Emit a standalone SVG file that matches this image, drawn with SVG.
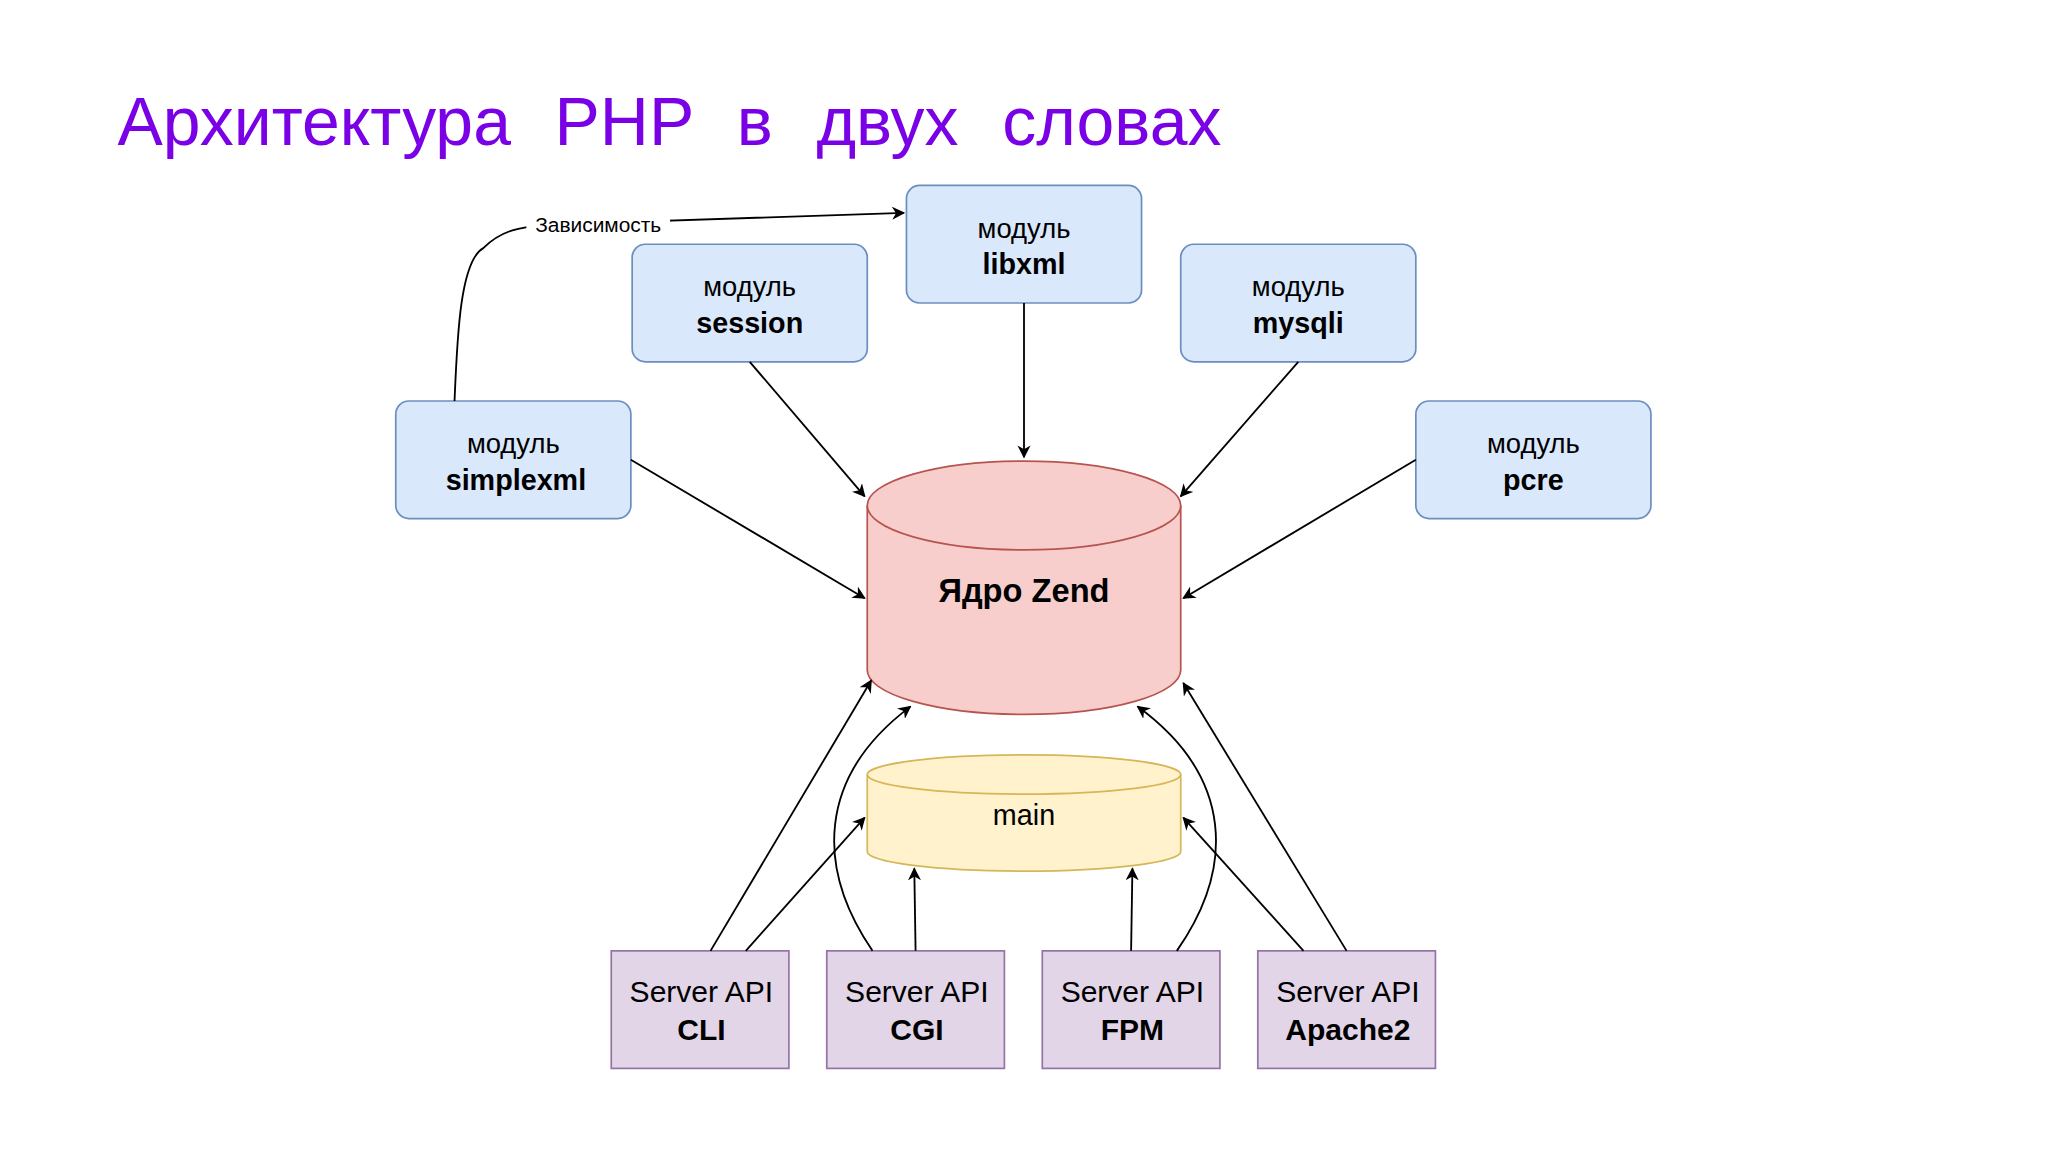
<svg xmlns="http://www.w3.org/2000/svg" width="2048" height="1152" viewBox="0 0 2048 1152">
<defs>
<marker id="ar" viewBox="0 0 10 10" refX="9" refY="5" markerWidth="10" markerHeight="10" orient="auto" markerUnits="userSpaceOnUse"><path d="M0,0 L10,5 L0,10 L3,5 z" fill="#000"/></marker>
<style>
.t{font-family:"Liberation Sans",Arial,sans-serif;text-anchor:middle}
.m{fill:#dae8fc;stroke:#6c8ebf;stroke-width:1.3}
.s{fill:#e1d5e7;stroke:#9673a6;stroke-width:1.3}
.c{fill:none;stroke:#000;stroke-width:1.4;marker-end:url(#ar)}
</style>
</defs>
<rect width="2048" height="1152" fill="#fff"/>
<g transform="scale(1.30612)">
<text x="90" y="111" style="font-family:'Liberation Sans',Arial,sans-serif;font-size:52px;word-spacing:19px" fill="#7a00e6">Архитектура PHP в двух словах</text>
<g id="libxml"><rect class="m" x="694" y="142" width="180" height="90" rx="10"/><text class="t" x="784" y="182" font-size="21">модуль</text><text class="t" x="784" y="210" font-size="22" font-weight="bold">libxml</text></g>
<g id="session"><rect class="m" x="484" y="187" width="180" height="90" rx="10"/><text class="t" x="574" y="227" font-size="21">модуль</text><text class="t" x="574" y="255" font-size="22" font-weight="bold">session</text></g>
<g id="mysqli"><rect class="m" x="904" y="187" width="180" height="90" rx="10"/><text class="t" x="994" y="227" font-size="21">модуль</text><text class="t" x="994" y="255" font-size="22" font-weight="bold">mysqli</text></g>
<g id="simplexml"><rect class="m" x="303" y="307" width="180" height="90" rx="10"/><text class="t" x="393" y="347" font-size="21">модуль</text><text class="t" x="395" y="375" font-size="22" font-weight="bold">simplexml</text></g>
<g id="pcre"><rect class="m" x="1084" y="307" width="180" height="90" rx="10"/><text class="t" x="1174" y="347" font-size="21">модуль</text><text class="t" x="1174" y="375" font-size="22" font-weight="bold">pcre</text></g>
<g id="zend"><path d="M664,387 L664,513 A120,34 0 0 0 904,513 L904,387 A120,34 0 0 0 664,387 Z" fill="#f8cecc" stroke="#b85450" stroke-width="1.3"/><path d="M664,387 A120,34 0 0 0 904,387" fill="none" stroke="#b85450" stroke-width="1.3"/><text class="t" x="784" y="461" font-size="25" font-weight="bold">Ядро Zend</text></g>
<g id="main"><path d="M664,593 L664,652 A120,15 0 0 0 904,652 L904,593 A120,15 0 0 0 664,593 Z" fill="#fff2cc" stroke="#d6b656" stroke-width="1.3"/><path d="M664,593 A120,15 0 0 0 904,593" fill="none" stroke="#d6b656" stroke-width="1.3"/><text class="t" x="784" y="632" font-size="22">main</text></g>
<g id="cli"><rect class="s" x="468" y="728" width="136" height="90"/><text class="t" x="537" y="767" font-size="23">Server API</text><text class="t" x="537" y="796" font-size="23" font-weight="bold">CLI</text></g>
<g id="cgi"><rect class="s" x="633" y="728" width="136" height="90"/><text class="t" x="702" y="767" font-size="23">Server API</text><text class="t" x="702" y="796" font-size="23" font-weight="bold">CGI</text></g>
<g id="fpm"><rect class="s" x="798" y="728" width="136" height="90"/><text class="t" x="867" y="767" font-size="23">Server API</text><text class="t" x="867" y="796" font-size="23" font-weight="bold">FPM</text></g>
<g id="apache2"><rect class="s" x="963" y="728" width="136" height="90"/><text class="t" x="1032" y="767" font-size="23">Server API</text><text class="t" x="1032" y="796" font-size="23" font-weight="bold">Apache2</text></g>
<g id="connectors">
<path class="c" d="M574,277 L662,380"/>
<path class="c" d="M784,232 L784,350"/>
<path class="c" d="M994,277 L904,380"/>
<path class="c" d="M483,352 L662,458"/>
<path class="c" d="M1084,352 L906,458"/>
<path class="c" d="M348,307 C350,260 352,200 370,190 C385,175 400,174 420,172 L692,163"/>
<rect x="403" y="162" width="110" height="20" fill="#fff"/>
<text class="t" x="458" y="178" font-size="16">Зависимость</text>
<path class="c" d="M544,728 L667,521"/>
<path class="c" d="M571,728 L662,626"/>
<path class="c" d="M668,728 C625,665 625,595 697,541"/>
<path class="c" d="M701,728 L700,665"/>
<path class="c" d="M866,728 L867,665"/>
<path class="c" d="M901,728 C945,665 945,595 871,541"/>
<path class="c" d="M998,728 L906,626"/>
<path class="c" d="M1031,728 L906,523"/>
</g>
</g>
</svg>
